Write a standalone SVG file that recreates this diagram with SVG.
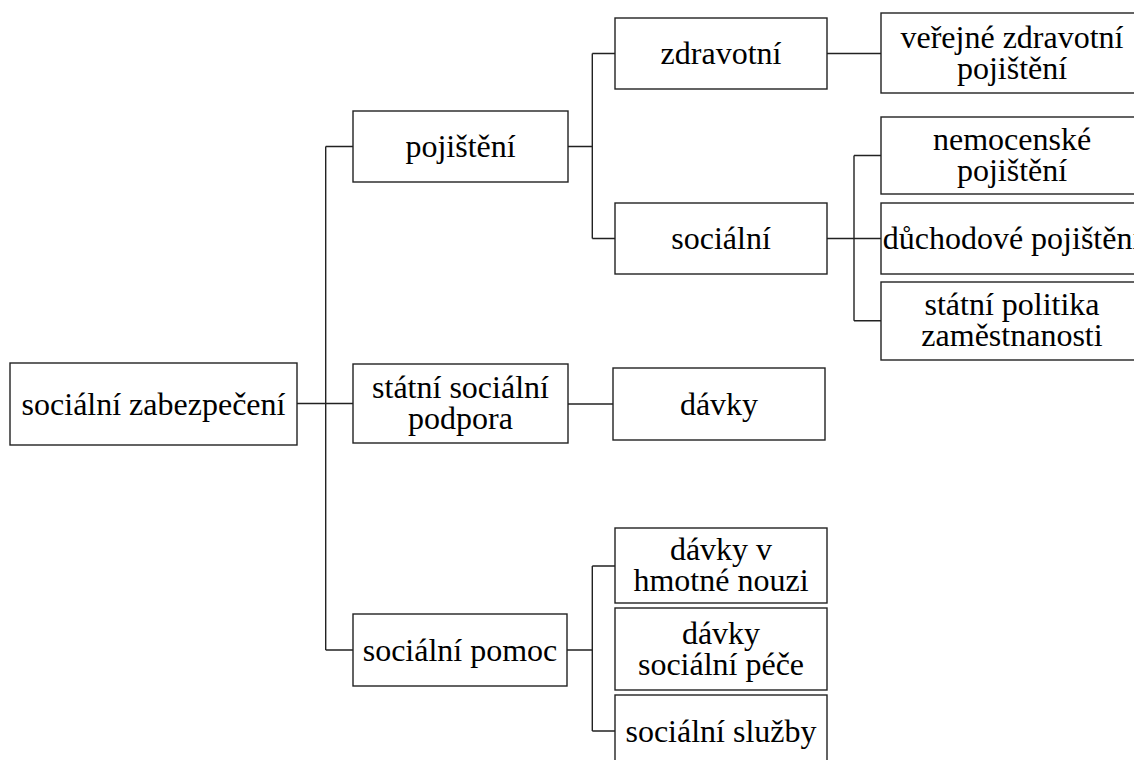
<svg xmlns="http://www.w3.org/2000/svg" width="1134" height="760" viewBox="0 0 1134 760">
<style>
.box{fill:#fff;stroke:#222;stroke-width:1.4}
.c{fill:none;stroke:#222;stroke-width:1.4}
</style>
<rect width="1134" height="760" fill="#fff"/>
<g id="connectors">
<path class="c" d="M297,403.5 H353 M325.7,146.5 V650 M325.7,146.5 H353 M325.7,650 H353"/>
<path class="c" d="M568,146.5 H592.3 M592.3,53.5 V238.5 M592.3,53.5 H615 M592.3,238.5 H615"/>
<path class="c" d="M827,53.5 H881"/>
<path class="c" d="M827,238.5 H881 M854,155.5 V320.8 M854,155.5 H881 M854,320.8 H881"/>
<path class="c" d="M568,404 H613"/>
<path class="c" d="M567,650 H592.3 M592.3,566 V731 M592.3,566 H615 M592.3,731 H615"/>
</g>
<g id="nodes" text-anchor="middle">
<g id="n-socialni-zabezpeceni"><rect class="box" x="10" y="363" width="287" height="82"/><text font-family="Times New Roman" font-size="32" x="153.5" y="414.5">sociální zabezpečení</text></g>
<g id="n-pojisteni"><rect class="box" x="353" y="111" width="215" height="71"/><text font-family="Times New Roman" font-size="32" x="460.5" y="157">pojištění</text></g>
<g id="n-statni-socialni-podpora"><rect class="box" x="353" y="364" width="215" height="79"/><text font-family="Times New Roman" font-size="32" x="460.5" y="398">státní sociální</text><text font-family="Times New Roman" font-size="32" x="460.5" y="429">podpora</text></g>
<g id="n-socialni-pomoc"><rect class="box" x="353" y="614" width="214" height="72"/><text font-family="Times New Roman" font-size="32" x="460" y="660.5">sociální pomoc</text></g>
<g id="n-zdravotni"><rect class="box" x="615" y="18" width="212" height="71"/><text font-family="Times New Roman" font-size="32" x="721" y="64">zdravotní</text></g>
<g id="n-socialni"><rect class="box" x="615" y="203" width="212" height="71"/><text font-family="Times New Roman" font-size="32" x="721" y="249">sociální</text></g>
<g id="n-davky"><rect class="box" x="613" y="368" width="212" height="72"/><text font-family="Times New Roman" font-size="32" x="719" y="414.5">dávky</text></g>
<g id="n-davky-hmotne-nouzi"><rect class="box" x="615" y="528" width="212" height="75"/><text font-family="Times New Roman" font-size="32" x="721" y="560">dávky v</text><text font-family="Times New Roman" font-size="32" x="721" y="591">hmotné nouzi</text></g>
<g id="n-davky-socialni-pece"><rect class="box" x="615" y="608" width="212" height="82"/><text font-family="Times New Roman" font-size="32" x="721" y="643.5">dávky</text><text font-family="Times New Roman" font-size="32" x="721" y="674.5">sociální péče</text></g>
<g id="n-socialni-sluzby"><rect class="box" x="615" y="695" width="212" height="72"/><text font-family="Times New Roman" font-size="32" x="721" y="741.5">sociální služby</text></g>
<g id="n-verejne-zdravotni-pojisteni"><rect class="box" x="881" y="13" width="262" height="80"/><text font-family="Times New Roman" font-size="32" x="1012" y="48">veřejné zdravotní</text><text font-family="Times New Roman" font-size="32" x="1012" y="79">pojištění</text></g>
<g id="n-nemocenske-pojisteni"><rect class="box" x="881" y="117" width="262" height="77"/><text font-family="Times New Roman" font-size="32" x="1012" y="150">nemocenské</text><text font-family="Times New Roman" font-size="32" x="1012" y="181">pojištění</text></g>
<g id="n-duchodove-pojisteni"><rect class="box" x="881" y="203" width="262" height="71"/><text font-family="Times New Roman" font-size="32" x="1012" y="249">důchodové pojištění</text></g>
<g id="n-statni-politika-zamestnanosti"><rect class="box" x="881" y="282" width="262" height="78"/><text font-family="Times New Roman" font-size="32" x="1012" y="315">státní politika</text><text font-family="Times New Roman" font-size="32" x="1012" y="346">zaměstnanosti</text></g>
</g>
</svg>
